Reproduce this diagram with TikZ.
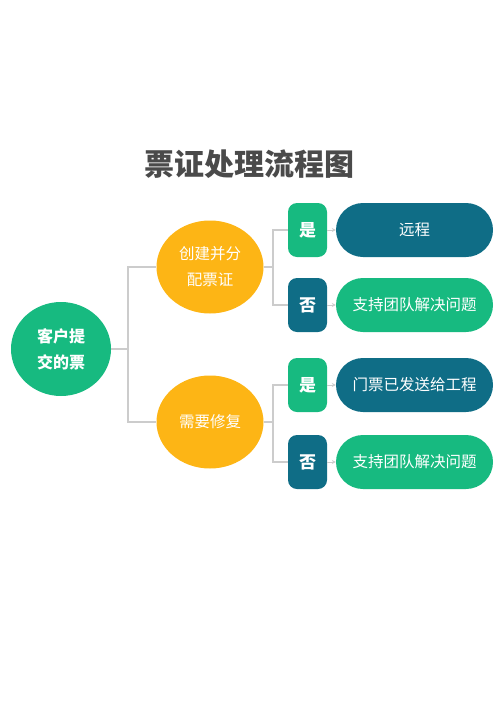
\documentclass[tikz,border=0pt]{standalone}
\usepackage{fontspec}
\setmainfont{Noto Sans CJK SC}
\usetikzlibrary{arrows.meta}
\definecolor{cgreen}{HTML}{17BA80}
\definecolor{cteal}{HTML}{0F6D86}
\definecolor{corange}{HTML}{FDB515}
\definecolor{cline}{HTML}{CCCCCC}
\definecolor{ctitle}{HTML}{4A4A4A}
\tikzset{
  root/.style={ellipse, fill=cgreen, minimum width=100pt, minimum height=94pt, inner sep=0pt, text=white, font=\fontsize{16}{26}\selectfont\bfseries, align=center},
  mid/.style={ellipse, fill=corange, minimum width=107pt, minimum height=93pt, inner sep=0pt, text=white, font=\fontsize{15.5}{26}\selectfont, align=center},
  yesbox/.style={rectangle, rounded corners=9pt, fill=cgreen, minimum width=39pt, minimum height=54pt, inner sep=0pt, text=white, font=\fontsize{17}{20}\selectfont\bfseries},
  nobox/.style={yesbox, fill=cteal},
  pill/.style={rectangle, rounded corners=27pt, minimum width=157pt, minimum height=54pt, inner sep=0pt, text=white, font=\fontsize{15.5}{20}\selectfont},
  link/.style={draw=cline, line width=1.2pt},
  arr/.style={draw=cline, line width=1pt, -{Stealth[length=4pt,width=4pt]}}
}
\usetikzlibrary{shapes.geometric}
\begin{document}
\begin{tikzpicture}[x=1pt,y=-1pt]
\useasboundingbox (0,0) rectangle (500,707);
\node[text=ctitle, font=\fontsize{30}{34}\selectfont\bfseries] (title) at (249,164) {票证处理流程图};
\node[root] (r) at (61,349) {客户提\\交的票};
\node[mid] (a) at (210,267) {创建并分\\配票证};
\node[mid] (b) at (210,422) {需要修复};
\node[yesbox] (ay) at (307.5,230) {是};
\node[nobox] (an) at (307.5,305) {否};
\node[yesbox] (by) at (307.5,385) {是};
\node[nobox] (bn) at (307.5,462) {否};
\node[pill, fill=cteal] (ayp) at (414.5,230) {远程};
\node[pill, fill=cgreen] (anp) at (414.5,305) {支持团队解决问题};
\node[pill, fill=cteal] (byp) at (414.5,385) {门票已发送给工程};
\node[pill, fill=cgreen] (bnp) at (414.5,462) {支持团队解决问题};
\coordinate (j0) at (128,349);
\coordinate (j1) at (273,267);
\coordinate (j2) at (273,422);
\draw[link] (r.east) -- (j0);
\draw[link] (j0) |- (a.west);
\draw[link] (j0) |- (b.west);
\draw[link] (a.east) -- (j1);
\draw[link] (j1) |- (ay.west);
\draw[link] (j1) |- (an.west);
\draw[link] (b.east) -- (j2);
\draw[link] (j2) |- (by.west);
\draw[link] (j2) |- (bn.west);
\draw[arr] (ay.east) -- (ayp.west);
\draw[arr] (an.east) -- (anp.west);
\draw[arr] (by.east) -- (byp.west);
\draw[arr] (bn.east) -- (bnp.west);
\end{tikzpicture}
\end{document}
